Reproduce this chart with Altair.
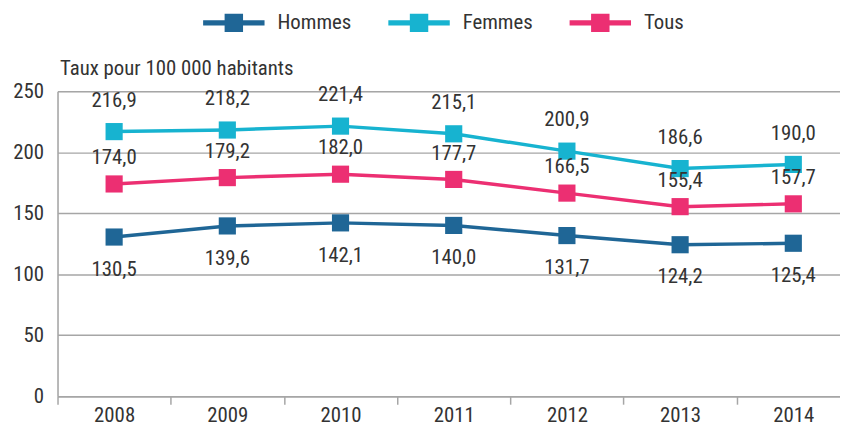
import altair as alt
import pandas as pd

years = ["2008", "2009", "2010", "2011", "2012", "2013", "2014"]
hommes = [130.5, 139.6, 142.1, 140.0, 131.7, 124.2, 125.4]
femmes = [216.9, 218.2, 221.4, 215.1, 200.9, 186.6, 190.0]
tous = [174.0, 179.2, 182.0, 177.7, 166.5, 155.4, 157.7]

series_names = ["Hommes", "Femmes", "Tous"]
series_colors = ["#1f6696", "#17b3d0", "#ec2f72"]

rows = []
for name, vals in zip(series_names, [hommes, femmes, tous]):
    for y, v in zip(years, vals):
        rows.append({"Année": y, "Série": name, "Taux": v,
                     "Label": f"{v:.1f}".replace(".", ",")})
df = pd.DataFrame(rows)

FONT = "Liberation Sans Narrow, Arial Narrow, Roboto Condensed, Roboto, sans-serif"
TXT = "#333333"

legend_path = ("M-1,-0.085L1,-0.085L1,0.085L-1,0.085Z "
               "M-0.3,-0.3L0.3,-0.3L0.3,0.3L-0.3,0.3Z")

x_enc = alt.X("Année:O",
              scale=alt.Scale(type="band", paddingInner=0, paddingOuter=0,
                              range=[0, 800]),
              axis=alt.Axis(title=None, tickBand="extent", labelAngle=0,
                            tickSize=8, tickColor="#a6a6a6", tickWidth=1.5,
                            domainColor="#a6a6a6", domainWidth=1.5,
                            labelPadding=0, labelFontSize=21, labelColor=TXT,
                            labelFont=FONT, grid=False))
y_enc = alt.Y("Taux:Q",
              scale=alt.Scale(domain=[0, 250], nice=False),
              axis=alt.Axis(values=[0, 50, 100, 150, 200, 250], ticks=False,
                            domainColor="#a6a6a6", domainWidth=1.5,
                            gridColor="#a6a6a6", gridWidth=1.5,
                            labelPadding=14, labelFontSize=21, labelColor=TXT,
                            labelFont=FONT,
                            title="Taux pour 100 000 habitants",
                            titleAngle=0, titleAlign="left", titleBaseline="middle",
                            titleX=2, titleY=-23, titleFontSize=21,
                            titleFontWeight="normal", titleColor=TXT,
                            titleFont=FONT))
color_enc = alt.Color("Série:N",
                      scale=alt.Scale(domain=series_names, range=series_colors),
                      legend=alt.Legend(title=None, orient="none", direction="horizontal",
                                        legendX=147, legendY=-100,
                                        symbolType=legend_path, symbolSize=3844,
                                        symbolStrokeWidth=0, symbolOpacity=1,
                                        labelFontSize=21, labelFont=FONT,
                                        labelColor=TXT, labelOffset=13,
                                        columnPadding=37))

base = alt.Chart(df)

lines = base.mark_line(strokeWidth=3.5).encode(x=x_enc, y=y_enc, color=color_enc)
points = base.mark_point(shape="square", filled=True, size=300, opacity=1).encode(
    x=x_enc, y=y_enc, color=color_enc)

def labels(name, dy):
    return base.transform_filter(alt.datum["Série"] == name).mark_text(
        dy=dy, fontSize=21, font=FONT, color=TXT, baseline="middle"
    ).encode(x=x_enc, y=y_enc, text="Label:N")

chart = alt.layer(lines, points,
                  labels("Femmes", -31), labels("Tous", -26), labels("Hommes", 33)
                  ).properties(
    width=790, height=308,
    autosize=alt.AutoSizeParams(type="none"),
    padding={"left": 50, "top": 82, "right": 0, "bottom": 29},
).configure_view(stroke=None).configure(font=FONT)

chart.save("out.html", embed_options={"renderer": "svg", "actions": False})
